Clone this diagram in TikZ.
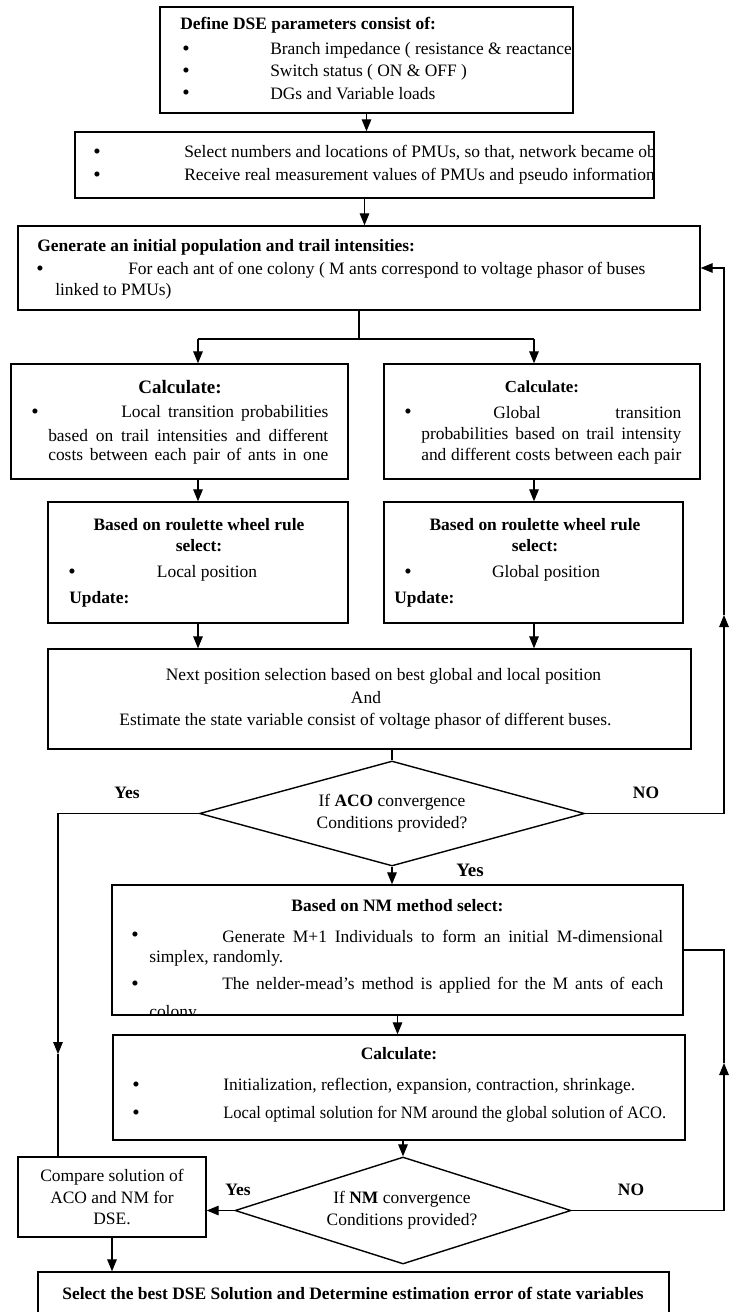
\documentclass[tikz,border=0pt]{standalone}
\usepackage{fontspec}
\setmainfont{Liberation Serif}
\usepackage{tikz}
\usetikzlibrary{shapes.geometric, arrows.meta, calc}
\newcommand{\jline}[2]{\makebox[#1][s]{#2}}
\tikzset{
  box/.style={draw, rectangle, line width=1pt, inner sep=0pt},
  decide/.style={draw, diamond, line width=1pt, inner sep=0pt},
  txt/.style={inner sep=0pt, font=\fontsize{12.4}{15.5}\selectfont},
  bold/.style={inner sep=0pt, font=\fontsize{12.4}{15.5}\selectfont\bfseries},
  bul/.style={inner sep=0pt, font=\fontsize{15}{15}\selectfont},
  arr/.style={-{Triangle[length=3mm, width=2.4mm]}, line width=0.8pt},
  lnk/.style={line width=0.8pt}
}

\begin{document}
\begin{tikzpicture}[x=0.25mm, y=-0.25mm]
  \useasboundingbox (0,0) rectangle (736,1312);
  \clip (0,0) rectangle (736,1312);

  % Define DSE parameters
  \node[box, minimum width=103.25mm, minimum height=26.5mm] (def) at (366.5,60) {};
  \begin{scope}
    \clip (def.south west) rectangle (def.north east);
    \node[bold, anchor=west] (defh) at (180,25) {Define DSE parameters consist of:};
    \node[bul] (defb1) at (186,51) {\textbullet};
    \node[bul] (defb2) at (186,73) {\textbullet};
    \node[bul] (defb3) at (186,95) {\textbullet};
    \node[txt, anchor=west] (def1) at (270,50) {Branch impedance ( resistance \& reactance};
    \node[txt, anchor=west] (def2) at (270,72) {Switch status ( ON \& OFF )};
    \node[txt, anchor=west] (def3) at (270,94) {DGs and Variable loads};
  \end{scope}

  % PMUs
  \node[box, minimum width=144.75mm, minimum height=16.5mm] (pmu) at (364.5,165) {};
  \begin{scope}
    \clip (pmu.south west) rectangle (pmu.north east);
    \node[bul] (pmub1) at (97,154) {\textbullet};
    \node[bul] (pmub2) at (97,177) {\textbullet};
    \node[txt, anchor=west] (pmu1) at (184,153) {Select numbers and locations of PMUs, so that, network became ob};
    \node[txt, anchor=west] (pmu2) at (184,176) {Receive real measurement values of PMUs and pseudo information};
  \end{scope}

  % initial population
  \node[box, minimum width=170.5mm, minimum height=21mm] (gen) at (359,268) {};
  \node[bold, anchor=west] (genh) at (37,247) {Generate an initial population and trail intensities:};
  \node[bul] (genb) at (40,271) {\textbullet};
  \node[txt, anchor=west] (gen1) at (128,270) {For each ant of one colony ( M ants correspond to voltage phasor of buses};
  \node[txt, anchor=west] (gen2) at (55,291) {linked to PMUs)};

  % local / global transition probabilities
  \node[box, minimum width=84.25mm, minimum height=28.75mm] (lcalc) at (179.5,421.5) {};
  \node[bold, font=\fontsize{13.5}{15}\selectfont\bfseries] (lcalch) at (180,387) {Calculate:};
  \node[bul] (lcalcb) at (35,414) {\textbullet};
  \node[txt, anchor=west] (lcalc1) at (121,413) {\jline{51.75mm}{Local transition probabilities}};
  \node[txt, anchor=west] (lcalc2) at (48,435) {\jline{70mm}{based on trail intensities and different}};
  \node[txt, anchor=west] (lcalc3) at (48,456) {\jline{70mm}{costs between each pair of ants in one}};

  \node[box, minimum width=79mm, minimum height=28.75mm] (gcalc) at (542,421.5) {};
  \node[bold, font=\fontsize{12}{15}\selectfont\bfseries] (gcalch) at (542,387) {Calculate:};
  \node[bul] (gcalcb) at (408,414) {\textbullet};
  \node[txt, anchor=west] (gcalc1) at (493,413) {\jline{47mm}{Global transition}};
  \node[txt, anchor=west] (gcalc2) at (421,435) {\jline{65mm}{probabilities based on trail intensity}};
  \node[txt, anchor=west] (gcalc3) at (421,456) {\jline{65mm}{and different costs between each pair}};

  % roulette wheel
  \node[box, minimum width=75mm, minimum height=30.25mm] (lsel) at (198,562.5) {};
  \node[bold] (lselh1) at (199,525) {Based on roulette wheel rule};
  \node[bold] (lselh2) at (199,546) {select:};
  \node[bul] (lselb) at (72,574) {\textbullet};
  \node[txt] (lsel1) at (207,573) {Local position};
  \node[bold, anchor=west] (lselu) at (69,599) {Update:};

  \node[box, minimum width=74.75mm, minimum height=30.25mm] (gsel) at (533.5,562.5) {};
  \node[bold] (gselh1) at (535,525) {Based on roulette wheel rule};
  \node[bold] (gselh2) at (535,546) {select:};
  \node[bul] (gselb) at (408,574) {\textbullet};
  \node[txt] (gsel1) at (546,573) {Global position};
  \node[bold, anchor=west] (gselu) at (394,599) {Update:};

  % next position
  \node[box, minimum width=160.75mm, minimum height=25mm] (next) at (369.5,699) {};
  \node[txt] (next1) at (383.5,676) {Next position selection based on best global and local position};
  \node[txt] (next2) at (366,698) {And};
  \node[txt] (next3) at (365.5,721) {Estimate the state variable consist of voltage phasor of different buses.};

  % ACO test
  \node[decide, minimum width=96.25mm, minimum height=26.25mm] (aco) at (392,813.5) {};
  \node[txt, align=center] (acotxt) at (392,813) {If \textbf{ACO} convergence\\Conditions provided?};

  % NM method
  \node[box, minimum width=142.75mm, minimum height=32.5mm] (nm) at (397.5,950) {};
  \begin{scope}
    \clip (nm.south west) rectangle (nm.north east);
    \node[bold] (nmh) at (397.5,906) {Based on NM method select:};
    \node[bul] (nmb1) at (135,937) {\textbullet};
    \node[bul] (nmb2) at (135,986) {\textbullet};
    \node[txt, anchor=west] (nm1) at (222,936) {\jline{110.25mm}{Generate M+1 Individuals to form an initial M-dimensional}};
    \node[txt, anchor=west] (nm2) at (149,958) {simplex, randomly.};
    \node[txt, anchor=west] (nm3) at (222,985) {\jline{110.25mm}{The nelder-mead's method is applied for the M ants of each}};
    \node[txt, anchor=west] (nm4) at (149,1013) {colony.};
  \end{scope}

  \node[box, minimum width=143mm, minimum height=26.25mm] (nmcalc) at (399,1087.5) {};
  \node[bold, font=\fontsize{12.4}{15}\selectfont\bfseries] (nmcalch) at (399,1054) {Calculate:};
  \node[bul] (nmcalcb1) at (136,1087) {\textbullet};
  \node[bul] (nmcalcb2) at (136,1115) {\textbullet};
  \node[txt, anchor=west] (nmcalc1) at (223,1086) {Initialization, reflection, expansion, contraction, shrinkage.};
  \node[txt, anchor=west] (nmcalc2) at (223,1114) {\scalebox{0.95}[1]{Local optimal solution for NM around the global solution of ACO.}};

  % NM test
  \node[decide, minimum width=84mm, minimum height=26.75mm] (nmdec) at (403,1210.5) {};
  \node[txt, align=center] (nmtxt) at (402,1210) {If \textbf{NM} convergence\\Conditions provided?};

  \node[box, txt, align=center, minimum width=47mm, minimum height=20mm] (cmp) at (112,1197) {Compare solution of\\ACO and NM for\\DSE.};

  \node[box, minimum width=157.75mm, minimum height=14.5mm] (best) at (353.5,1301) {};
  \node[bold] (besttxt) at (353,1293) {Select the best DSE Solution and Determine estimation error of state variables};

  % labels
  \node[bold] (yes1) at (127,793) {Yes};
  \node[bold] (no1) at (646,793) {NO};
  \node[bold, font=\fontsize{13.5}{15}\selectfont\bfseries] (yes2) at (470,870) {Yes};
  \node[bold] (yes3) at (238,1190) {Yes};
  \node[bold] (no2) at (631,1190) {NO};

  % connectors
  \coordinate (colL) at (198,339);
  \coordinate (colG) at (534,339);
  \coordinate (acoup) at (724,615);
  \coordinate (yesdn) at (58,1054);
  \coordinate (nmup) at (724,1063);

  \draw[arr] (def.south) -- (def.south |- pmu.north);
  \draw[arr] (pmu.south) -- (pmu.south |- gen.north);
  \draw[lnk] (gen.south) -- (gen.south |- colL) (colL) -- (colG);
  \draw[arr] (colL) -- (colL |- lcalc.north);
  \draw[arr] (colG) -- (colG |- gcalc.north);
  \draw[arr] (colL |- lcalc.south) -- (colL |- lsel.north);
  \draw[arr] (colG |- gcalc.south) -- (colG |- gsel.north);
  \draw[arr] (colL |- lsel.south) -- (colL |- next.north);
  \draw[arr] (colG |- gsel.south) -- (colG |- next.north);
  \draw[lnk] (aco.north |- next.south) -- (aco.north);
  \draw[arr] (aco.south) -- (aco.south |- nm.north);
  \draw[arr] (aco.east) -| (acoup);
  \draw[arr] (acoup) |- (gen.east);
  \draw[arr] (aco.west) -| (yesdn);
  \draw[lnk] (yesdn) -- (yesdn |- cmp.north);
  \draw[arr] (nm.south) -- (nm.south |- nmcalc.north);
  \draw[arr] (nmdec.north |- nmcalc.south) -- (nmdec.north);
  \draw[arr] (nmdec.west) -- (nmdec.west -| cmp.east);
  \draw[arr] (nmdec.east) -| (nmup);
  \draw[lnk] (nmup) |- (nm.east);
  \draw[arr] (cmp.south) -- (cmp.south |- best.north);
\end{tikzpicture}
\end{document}
